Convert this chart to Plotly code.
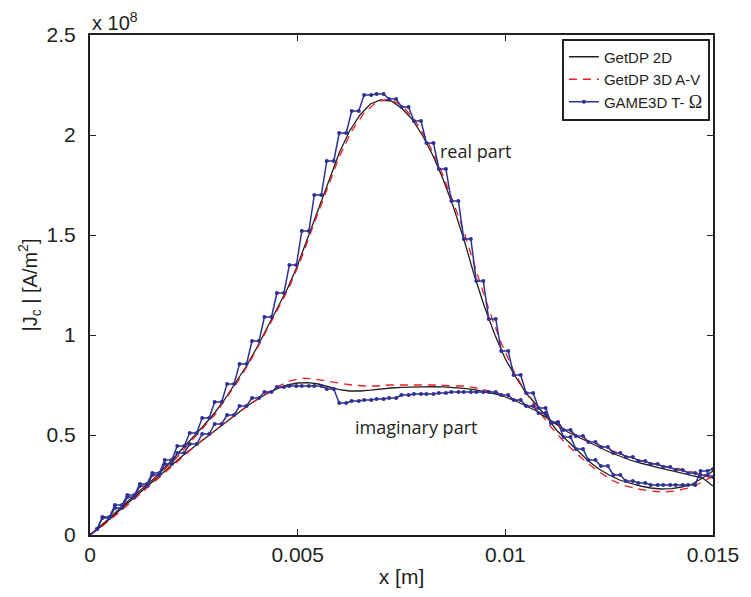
import numpy as np
import plotly.graph_objects as go

# ---------------- DATA (x in mm, y in units of 1e8 A/m^2) ----------------
# GetDP 2D (smooth reference)
x_2d = [0, 0.25, 0.5, 0.75, 1.0, 1.25, 1.5, 1.75, 2.0, 2.25, 2.5, 2.75, 3.0, 3.25, 3.5, 3.75,
        4.0, 4.25, 4.5, 4.75, 5.0, 5.25, 5.5, 5.75, 6.0, 6.25, 6.5, 6.75, 7.0, 7.25, 7.5, 7.75,
        8.0, 8.25, 8.5, 8.75, 9.0, 9.25, 9.5, 9.75, 10.0, 10.25, 10.5, 10.75, 11.0, 11.25, 11.5,
        11.75, 12.0, 12.25, 12.5, 12.75, 13.0, 13.25, 13.5, 13.75, 14.0, 14.25, 14.5, 14.75, 15.0]
re_2d = [0.0, 0.045, 0.09, 0.14, 0.185, 0.23, 0.275, 0.325, 0.38, 0.435, 0.49, 0.55, 0.61, 0.68,
         0.76, 0.84, 0.93, 1.03, 1.13, 1.23, 1.35, 1.49, 1.64, 1.78, 1.91, 2.02, 2.10, 2.155,
         2.175, 2.17, 2.135, 2.08, 2.0, 1.9, 1.78, 1.64, 1.48, 1.3, 1.14, 1.0, 0.88, 0.79, 0.71,
         0.65, 0.59, 0.52, 0.47, 0.42, 0.37, 0.33, 0.30, 0.275, 0.26, 0.245, 0.235, 0.23, 0.232,
         0.24, 0.255, 0.285, 0.32]
im_2d = [0.0, 0.04, 0.085, 0.13, 0.175, 0.22, 0.265, 0.31, 0.355, 0.4, 0.44, 0.48, 0.52, 0.56,
         0.6, 0.64, 0.675, 0.705, 0.73, 0.75, 0.76, 0.762, 0.755, 0.74, 0.727, 0.72, 0.72, 0.724,
         0.73, 0.735, 0.738, 0.74, 0.741, 0.742, 0.741, 0.738, 0.733, 0.727, 0.718, 0.706, 0.69,
         0.67, 0.645, 0.62, 0.585, 0.55, 0.515, 0.49, 0.465, 0.44, 0.415, 0.395, 0.375, 0.36,
         0.345, 0.333, 0.322, 0.31, 0.298, 0.285, 0.245]

# GetDP 3D A-V
x_3d = [0, 0.3, 0.6, 0.9, 1.2, 1.5, 1.8, 2.1, 2.4, 2.7, 3.0, 3.3, 3.6, 3.9, 4.2, 4.5, 4.8, 5.1,
        5.4, 5.7, 6.0, 6.3, 6.6, 6.9, 7.2, 7.5, 7.8, 8.1, 8.4, 8.7, 9.0, 9.3, 9.6, 9.9, 10.2,
        10.5, 10.8, 11.1, 11.4, 11.7, 12.0, 12.3, 12.6, 12.9, 13.2, 13.5, 13.8, 14.1, 14.4, 14.7, 15.0]
re_3d = [0.0, 0.05, 0.105, 0.16, 0.215, 0.27, 0.33, 0.39, 0.46, 0.53, 0.6, 0.69, 0.78, 0.885,
         1.0, 1.12, 1.24, 1.39, 1.56, 1.73, 1.89, 2.02, 2.11, 2.165, 2.18, 2.15, 2.08, 1.98,
         1.85, 1.69, 1.52, 1.32, 1.13, 0.96, 0.82, 0.71, 0.62, 0.54, 0.47, 0.41, 0.355, 0.31,
         0.27, 0.245, 0.23, 0.22, 0.215, 0.22, 0.235, 0.26, 0.295]
im_3d = [0.0, 0.045, 0.095, 0.15, 0.205, 0.26, 0.315, 0.37, 0.425, 0.475, 0.52, 0.57, 0.615,
         0.66, 0.7, 0.74, 0.77, 0.785, 0.78, 0.77, 0.76, 0.75, 0.745, 0.745, 0.75, 0.75, 0.75,
         0.75, 0.75, 0.745, 0.745, 0.735, 0.72, 0.7, 0.68, 0.65, 0.615, 0.57, 0.53, 0.5, 0.47,
         0.445, 0.42, 0.395, 0.375, 0.36, 0.345, 0.335, 0.32, 0.305, 0.28]

# GAME3D T-Omega (element pairs)
x_t = [0, 0.17, 0.3, 0.47, 0.6, 0.77, 0.9, 1.07, 1.2, 1.37, 1.5, 1.67, 1.8, 1.97, 2.1, 2.27,
       2.4, 2.57, 2.7, 2.87, 3.0, 3.17, 3.3, 3.47, 3.6, 3.77, 3.9, 4.07, 4.2, 4.37, 4.5, 4.67,
       4.8, 4.97, 5.1, 5.27, 5.4, 5.57, 5.7, 5.87, 6.0, 6.17, 6.3, 6.47, 6.6, 6.77, 6.9, 7.07,
       7.2, 7.37, 7.5, 7.67, 7.8, 7.97, 8.1, 8.27, 8.4, 8.57, 8.7, 8.87, 9.0, 9.17, 9.3, 9.47,
       9.6, 9.77, 9.9, 10.07, 10.2, 10.37, 10.5, 10.67, 10.8, 10.97, 11.1, 11.27, 11.4, 11.57,
       11.7, 11.87, 12.0, 12.17, 12.3, 12.47, 12.6, 12.77, 12.9, 13.07, 13.2, 13.37, 13.5, 13.67,
       13.8, 13.97, 14.1, 14.27, 14.4, 14.57, 14.7, 14.87, 15.0]
re_t = [0.0, 0.03, 0.09, 0.09, 0.15, 0.15, 0.2, 0.2, 0.255, 0.255, 0.31, 0.31, 0.375, 0.375,
        0.445, 0.445, 0.51, 0.51, 0.585, 0.585, 0.665, 0.665, 0.755, 0.755, 0.855, 0.855,
        0.97, 0.97, 1.09, 1.09, 1.21, 1.21, 1.35, 1.35, 1.52, 1.52, 1.7, 1.7, 1.87, 1.87,
        2.01, 2.01, 2.12, 2.12, 2.2, 2.2, 2.205, 2.205, 2.18, 2.18, 2.14, 2.14, 2.07, 2.07,
        1.96, 1.96, 1.83, 1.83, 1.67, 1.67, 1.48, 1.48, 1.27, 1.27, 1.08, 1.08, 0.92, 0.92,
        0.8, 0.8, 0.71, 0.71, 0.635, 0.635, 0.56, 0.56, 0.49, 0.49, 0.43, 0.43, 0.375, 0.375,
        0.345, 0.345, 0.3, 0.3, 0.27, 0.27, 0.26, 0.26, 0.25, 0.25, 0.25, 0.25, 0.25, 0.25,
        0.25, 0.25, 0.32, 0.32, 0.33]
im_t = [0.0, 0.03, 0.085, 0.085, 0.135, 0.135, 0.19, 0.19, 0.245, 0.245, 0.3, 0.3, 0.355, 0.355,
        0.41, 0.41, 0.455, 0.455, 0.505, 0.505, 0.555, 0.555, 0.6, 0.6, 0.645, 0.645, 0.685,
        0.685, 0.715, 0.715, 0.74, 0.74, 0.745, 0.745, 0.745, 0.745, 0.745, 0.745, 0.73, 0.73,
        0.66, 0.66, 0.67, 0.67, 0.675, 0.675, 0.68, 0.68, 0.685, 0.685, 0.7, 0.7, 0.705, 0.705,
        0.705, 0.705, 0.71, 0.71, 0.715, 0.715, 0.715, 0.715, 0.715, 0.715, 0.715, 0.715, 0.7,
        0.7, 0.675, 0.675, 0.645, 0.645, 0.61, 0.61, 0.565, 0.565, 0.525, 0.525, 0.495, 0.495,
        0.465, 0.465, 0.44, 0.44, 0.41, 0.41, 0.39, 0.39, 0.37, 0.37, 0.355, 0.355, 0.34, 0.34,
        0.325, 0.325, 0.31, 0.31, 0.3, 0.3, 0.29]

x_ticks = [0, 0.005, 0.01, 0.015]
x_ticklabels = ["0", "0.005", "0.01", "0.015"]
y_ticks = [0, 0.5, 1, 1.5, 2, 2.5]
y_ticklabels = ["0", "0.5", "1", "1.5", "2", "2.5"]

# ---------------- PLOTTING ----------------
BLACK = "#231f20"
RED = "#ed1c24"
BLUE = "#2e3192"
FONT = "Liberation Sans"

def m(v):
    return np.array(v) * 1e-3

fig = go.Figure()

# real part
fig.add_trace(go.Scatter(x=m(x_2d), y=re_2d, mode="lines", name="GetDP 2D",
                         line=dict(color=BLACK, width=1.3)))
fig.add_trace(go.Scatter(x=m(x_3d), y=re_3d, mode="lines", name="GetDP 3D A-V",
                         line=dict(color=RED, width=1.3, dash="8px,6px")))
fig.add_trace(go.Scatter(x=m(x_t), y=re_t, mode="lines+markers",
                         name='GAME3D T- <span style="font-family:Liberation Serif;font-size:18px">Ω</span>',
                         line=dict(color=BLUE, width=1.5), marker=dict(size=4, color=BLUE)))
# imaginary part
fig.add_trace(go.Scatter(x=m(x_2d), y=im_2d, mode="lines", showlegend=False,
                         line=dict(color=BLACK, width=1.3)))
fig.add_trace(go.Scatter(x=m(x_3d), y=im_3d, mode="lines", showlegend=False,
                         line=dict(color=RED, width=1.3, dash="8px,6px")))
fig.add_trace(go.Scatter(x=m(x_t), y=im_t, mode="lines+markers", showlegend=False,
                         line=dict(color=BLUE, width=1.5), marker=dict(size=4, color=BLUE)))

axis_common = dict(showline=True, linecolor=BLACK, linewidth=2, mirror="ticks",
                   ticks="inside", ticklen=6, tickcolor=BLACK, tickwidth=1,
                   showgrid=False, zeroline=False,
                   tickfont=dict(family=FONT, size=21, color=BLACK))

fig.update_xaxes(range=[0, 0.015], tickvals=x_ticks, ticktext=x_ticklabels,
                 title=dict(text="x [m]", font=dict(family=FONT, size=21, color=BLACK), standoff=4),
                 **axis_common)
fig.update_yaxes(range=[0, 2.5], tickvals=y_ticks, ticktext=y_ticklabels, ticklabelstandoff=8,
                 title=dict(text="|J<sub>c</sub> | [A/m<sup>2</sup>]",
                            font=dict(family=FONT, size=20, color=BLACK), standoff=4),
                 **axis_common)

fig.add_annotation(text="x 10<sup>8</sup>", xref="paper", yref="paper", x=0, y=1.0,
                   xanchor="left", yanchor="bottom", showarrow=False, yshift=-1,
                   font=dict(family=FONT, size=20, color=BLACK))
fig.add_annotation(text="real part", x=0.00928, y=1.92, showarrow=False,
                   font=dict(family="Open Sans", size=18, color=BLACK))
fig.add_annotation(text="imaginary part", x=0.00786, y=0.54, showarrow=False,
                   font=dict(family="Open Sans", size=18, color=BLACK))

fig.update_layout(
    width=751, height=597,
    margin=dict(l=90, r=29, t=35, b=61),
    paper_bgcolor="white", plot_bgcolor="white",
    showlegend=True,
    legend=dict(x=0.995, y=0.993, xanchor="right", yanchor="top",
                bgcolor="white", bordercolor=BLACK, borderwidth=2,
                font=dict(family=FONT, size=15, color=BLACK),
                tracegroupgap=0, itemwidth=30),
)

# drop the default page margin so the figure fills the window exactly
fig.write_html("out.html", config={"displayModeBar": False},
               post_script="document.body.style.margin='0px';document.body.style.overflow='hidden';")
